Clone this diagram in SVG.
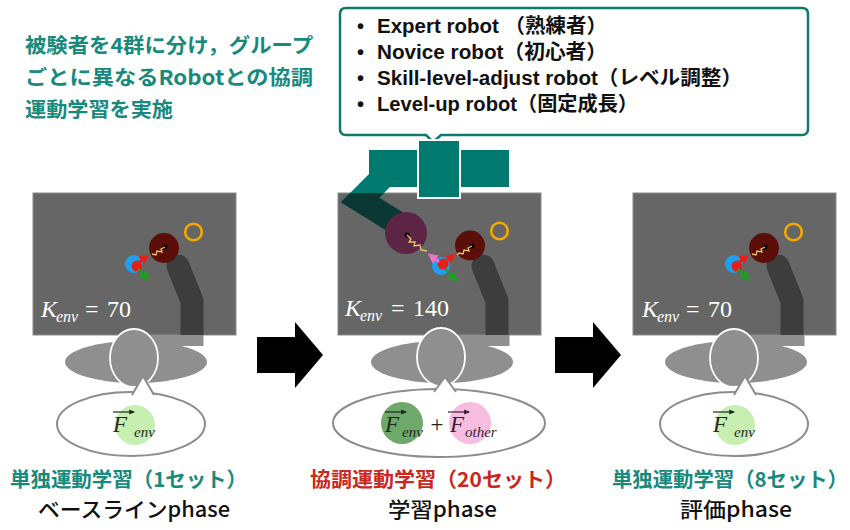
<svg xmlns="http://www.w3.org/2000/svg" width="850" height="530" viewBox="0 0 850 530">
  <style>
    .panel{fill:#666;stroke:#8a8a8a;stroke-width:1}
    .armD{fill:none;stroke:#3d3d3d;stroke-width:23;stroke-linejoin:round}
    .armDc{fill:#3d3d3d}
    .skin{fill:#8f8f8f}
    .head{fill:#8f8f8f;stroke:#fff;stroke-width:1.8}
    .bubble{fill:#fff;stroke:#8c8c8c;stroke-width:2}
    .hand{fill:#5c0f08}
    .partner{fill:#5d2545}
    .dot{fill:#000}
    .goal{fill:none;stroke:#f5a800;stroke-width:2.6}
    .cur{fill:#1ea0f0}
    .curdot{fill:#e52018}
    .spring{fill:none;stroke:#e6c468;stroke-width:1.3;stroke-linejoin:miter}
    .arR{stroke:#e52018;stroke-width:2.4;fill:none;marker-end:url(#hR)}
    .arG{stroke:#1fa024;stroke-width:2.4;fill:none;marker-end:url(#hG)}
    .arP{stroke:#f472c4;stroke-width:2.4;fill:none;marker-end:url(#hP)}
    .kt{font-family:"Liberation Serif",serif;fill:#fff;font-size:24px}
    .ks{font-family:"Liberation Serif",serif;fill:#fff;font-size:16px;font-style:italic}
    .it{font-style:italic}
    .mF{font-family:"Liberation Serif",serif;font-size:23px;font-style:italic}
    .mS{font-family:"Liberation Serif",serif;font-size:15px;font-style:italic}
    .vec{stroke-width:1.2;fill:none}
    .teal{fill:#007a6f}
    .jpB{font-family:"Noto Sans CJK JP",sans-serif;font-weight:700;font-size:20.5px}
    .jpM{font-family:"Noto Sans CJK JP",sans-serif;font-weight:500;font-size:21px;fill:#111}
    .list{font-family:"Liberation Sans","Noto Sans CJK JP",sans-serif;font-weight:700;font-size:20px;fill:#111}
  </style>
  <defs>
    <marker id="hR" viewBox="0 0 10 10" refX="6" refY="5" markerUnits="userSpaceOnUse" markerWidth="10" markerHeight="10" orient="auto"><path d="M0,0 L10,5 L0,10 z" fill="#e52018"/></marker>
    <marker id="hG" viewBox="0 0 10 10" refX="6" refY="5" markerUnits="userSpaceOnUse" markerWidth="10" markerHeight="10" orient="auto"><path d="M0,0 L10,5 L0,10 z" fill="#1fa024"/></marker>
    <marker id="hP" viewBox="0 0 10 10" refX="6" refY="5" markerUnits="userSpaceOnUse" markerWidth="10" markerHeight="10" orient="auto"><path d="M0,0 L10,5 L0,10 z" fill="#f472c4"/></marker>
    <marker id="hV" viewBox="0 0 10 10" refX="8" refY="5" markerUnits="userSpaceOnUse" markerWidth="6" markerHeight="6" orient="auto"><path d="M0,1 L10,5 L0,9 z" fill="#1e2a1e"/></marker>
    <marker id="hVp" viewBox="0 0 10 10" refX="8" refY="5" markerUnits="userSpaceOnUse" markerWidth="6" markerHeight="6" orient="auto"><path d="M0,1 L10,5 L0,9 z" fill="#3a1f33"/></marker>
    <clipPath id="midPanel"><rect x="338" y="193" width="203" height="142"/></clipPath>
  </defs>

  <rect width="850" height="530" fill="#fff"/>

  <!-- heading note -->
  <g id="note" class="jpB" fill="#178a7c">
    <text x="25" y="53" textLength="288" lengthAdjust="spacingAndGlyphs">被験者を4群に分け，グループ</text>
    <text x="25" y="85" textLength="288" lengthAdjust="spacingAndGlyphs">ごとに異なるRobotとの協調</text>
    <text x="25" y="117" textLength="148" lengthAdjust="spacingAndGlyphs">運動学習を実施</text>
  </g>

  <!-- partner robot list -->
  <g id="robot-list">
    <path d="M346,8 H802 Q808,8 808,14 V129 Q808,135 802,135 H441 L433,142 L426,135 H346 Q340,135 340,129 V14 Q340,8 346,8 Z" fill="#fff" stroke="#0d7a6f" stroke-width="2.5"/>
    <g class="list">
      <text x="357" y="33">•</text><text x="377" y="33" textLength="230" lengthAdjust="spacingAndGlyphs">Expert robot （熟練者）</text>
      <text x="357" y="59">•</text><text x="377" y="59" textLength="230" lengthAdjust="spacingAndGlyphs">Novice robot（初心者）</text>
      <text x="357" y="85">•</text><text x="377" y="85" textLength="365" lengthAdjust="spacingAndGlyphs">Skill-level-adjust robot（レベル調整）</text>
      <text x="357" y="111">•</text><text x="377" y="111" textLength="261" lengthAdjust="spacingAndGlyphs">Level-up robot（固定成長）</text>
    </g>
  </g>

  <!-- phase 1: baseline -->
  <g id="phase-baseline" transform="translate(33,0)">
    <rect class="panel" x="0" y="193" width="203" height="142"/>
    <path class="armD" d="M145,266 L159,301 L159,335"/>
    <circle class="armDc" cx="145" cy="266" r="11.5"/>
    <rect class="skin" x="147.5" y="335" width="23" height="11"/>
    <rect class="skin" x="110" y="335" width="60" height="11"/>
    <ellipse class="skin" cx="103" cy="362" rx="71" ry="21"/>
    <ellipse class="head" cx="101" cy="358" rx="24" ry="29"/>
    <circle class="hand" cx="131" cy="248" r="15"/>
    <circle class="dot" cx="132" cy="247" r="2.5"/>
    <circle class="goal" cx="160.5" cy="232" r="8.3"/>
    <path class="spring" d="M132,247 L128,249 L129,252 L124,251 L123,255 L119,254"/>
    <circle class="cur" cx="101" cy="264" r="9"/>
    <circle class="curdot" cx="104" cy="266" r="5.5"/>
    <path class="arR" d="M106,262 L113,257"/>
    <path class="arG" d="M105,269 L114,278"/>
    <text class="kt" y="317"><tspan class="it" x="8">K</tspan><tspan x="52">=</tspan><tspan x="74">70</tspan></text>
    <text class="ks" x="23" y="322">env</text>
    <ellipse class="bubble" cx="98" cy="424" rx="74" ry="32"/>
    <path class="bubble" d="M99,395 L110,376 L121,395"/>
    <circle cx="102" cy="425" r="20" fill="#c6efb1"/>
    <g fill="#1e2a1e">
      <text class="mF" x="80" y="432">F</text>
      <text class="mS" x="101" y="437">env</text>
      <path class="vec" stroke="#1e2a1e" d="M80,412 H101" marker-end="url(#hV)"/>
    </g>
  </g>

  <!-- phase 2: cooperative learning -->
  <g id="phase-learning">
    <g transform="translate(338,0)">
      <rect class="panel" x="0" y="193" width="203" height="142"/>
      <path class="armD" d="M145,266 L159,301 L159,335"/>
      <circle class="armDc" cx="145" cy="266" r="11.5"/>
      <rect class="skin" x="148.5" y="335" width="23" height="11"/>
      <rect class="skin" x="110" y="335" width="60" height="11"/>
      <ellipse class="skin" cx="104" cy="362" rx="71" ry="21"/>
      <ellipse class="head" cx="103" cy="357" rx="24" ry="29"/>
    </g>
    <!-- partner robot arm, seen from above -->
    <g id="partner-robot">
      <path d="M395,165 L360,200 L402,226" fill="none" stroke="#007a6f" stroke-width="24" stroke-linejoin="miter"/>
      <path d="M395,165 L360,200 L402,226" fill="none" stroke="#0b3734" stroke-width="24" stroke-linejoin="miter" clip-path="url(#midPanel)"/>
      <rect class="teal" x="369" y="150" width="140" height="37"/>
      <rect class="teal" x="418" y="140" width="42" height="58" stroke="#fff" stroke-width="2"/>
    </g>
    <g transform="translate(338,0)">
      <circle class="partner" cx="68" cy="233" r="21"/>
      <circle class="dot" cx="69" cy="235" r="2.5"/>
      <circle class="hand" cx="132" cy="245.5" r="15"/>
      <circle class="dot" cx="134" cy="246" r="2.5"/>
      <circle class="goal" cx="161.5" cy="231" r="8.3"/>
      <path class="spring" d="M69,235 L73,239 L71,242 L77,242 L76,246 L82,245 L83,250 L89,251"/>
      <path class="spring" d="M134,246 L130,248 L131,251 L126,250 L125,254 L121,253 L119,255"/>
      <circle class="cur" cx="103" cy="266" r="9"/>
      <circle class="curdot" cx="105" cy="264" r="5.5"/>
      <path class="arP" d="M101,262 L93,256"/>
      <path class="arR" d="M108,261 L115,256"/>
      <path class="arG" d="M107,269 L117,279"/>
      <text class="kt" y="316"><tspan class="it" x="7">K</tspan><tspan x="53">=</tspan><tspan x="75">140</tspan></text>
      <text class="ks" x="22" y="321">env</text>
      <ellipse class="bubble" cx="101" cy="423" rx="106" ry="34"/>
      <path class="bubble" d="M96,392 L107,377 L118,392"/>
      <circle cx="64" cy="423" r="21" fill="#6fa86b"/>
      <circle cx="132" cy="423" r="21" fill="#f7bde0"/>
      <g fill="#1e2a1e">
        <text class="mF" x="47" y="432">F</text>
        <text class="mS" x="64" y="437">env</text>
        <path class="vec" stroke="#1e2a1e" d="M47,412 H68" marker-end="url(#hV)"/>
      </g>
      <text x="99" y="432" text-anchor="middle" font-family="Liberation Serif, serif" font-size="23" fill="#222">+</text>
      <g fill="#3a1f33">
        <text class="mF" x="112" y="432">F</text>
        <text class="mS" x="127" y="437">other</text>
        <path class="vec" stroke="#3a1f33" d="M110,412 H131" marker-end="url(#hVp)"/>
      </g>
    </g>
  </g>

  <!-- phase 3: evaluation -->
  <g id="phase-evaluation" transform="translate(633,0)">
    <rect class="panel" x="0" y="193" width="203" height="142"/>
    <path class="armD" d="M145,266 L159,301 L159,335"/>
    <circle class="armDc" cx="145" cy="266" r="11.5"/>
    <rect class="skin" x="148.5" y="335" width="23" height="11"/>
    <rect class="skin" x="110" y="335" width="60" height="11"/>
    <ellipse class="skin" cx="103" cy="362" rx="71" ry="21"/>
    <ellipse class="head" cx="101" cy="358" rx="24" ry="29"/>
    <circle class="hand" cx="131" cy="248" r="15"/>
    <circle class="dot" cx="132" cy="247" r="2.5"/>
    <circle class="goal" cx="160.5" cy="232" r="8.3"/>
    <path class="spring" d="M132,247 L128,249 L129,252 L124,251 L123,255 L119,254"/>
    <circle class="cur" cx="101" cy="264" r="9"/>
    <circle class="curdot" cx="104" cy="266" r="5.5"/>
    <path class="arR" d="M106,262 L113,257"/>
    <path class="arG" d="M105,269 L114,278"/>
    <text class="kt" y="317"><tspan class="it" x="9">K</tspan><tspan x="53">=</tspan><tspan x="75">70</tspan></text>
    <text class="ks" x="24" y="322">env</text>
    <ellipse class="bubble" cx="101" cy="424" rx="74" ry="32"/>
    <path class="bubble" d="M101,395 L112,376 L123,395"/>
    <circle cx="102" cy="425" r="20" fill="#c6efb1"/>
    <g fill="#1e2a1e">
      <text class="mF" x="80" y="432">F</text>
      <text class="mS" x="101" y="437">env</text>
      <path class="vec" stroke="#1e2a1e" d="M80,412 H101" marker-end="url(#hV)"/>
    </g>
  </g>

  <!-- phase transitions -->
  <g id="connectors" fill="#000">
    <polygon points="257,337 295,337 295,322 323,355 295,388 295,373 257,373"/>
    <polygon points="555,337 593,337 593,322 621,355 593,388 593,373 555,373"/>
  </g>

  <!-- phase captions -->
  <g id="captions">
    <text class="jpB" x="10" y="487" fill="#178a7c" textLength="237" lengthAdjust="spacingAndGlyphs">単独運動学習（1セット）</text>
    <text class="jpM" x="38" y="517" textLength="192" lengthAdjust="spacingAndGlyphs">ベースラインphase</text>
    <text class="jpB" x="310" y="487" fill="#c8281e" textLength="256" lengthAdjust="spacingAndGlyphs">協調運動学習（20セット）</text>
    <text class="jpM" x="388" y="517" textLength="109" lengthAdjust="spacingAndGlyphs">学習phase</text>
    <text class="jpB" x="612" y="487" fill="#178a7c" textLength="236" lengthAdjust="spacingAndGlyphs">単独運動学習（8セット）</text>
    <text class="jpM" x="680" y="517" textLength="112" lengthAdjust="spacingAndGlyphs">評価phase</text>
  </g>
</svg>
